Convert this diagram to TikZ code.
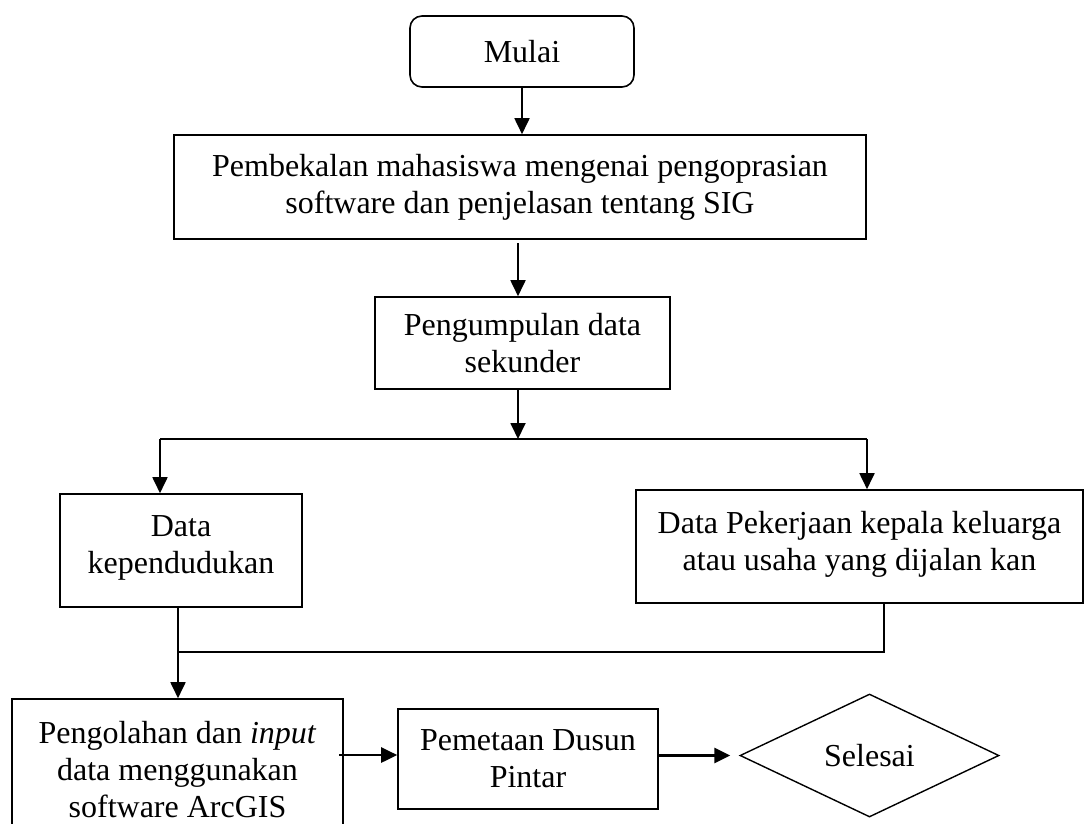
\documentclass[tikz,border=0pt]{standalone}
\usepackage{fontspec}
\setmainfont{Liberation Serif}
\usetikzlibrary{arrows.meta,shapes.geometric}
\begin{document}
\begin{tikzpicture}[x=1pt,y=-1pt,
  box/.style={draw, line width=1.6pt, rectangle, inner sep=0pt, align=center, font=\fontsize{32}{37}\selectfont},
  arr/.style={line width=1.8pt, -{Triangle[length=16pt,width=15pt]}},
  boldarr/.style={line width=2.6pt, -{Triangle[length=16pt,width=15pt]}},
  ln/.style={line width=1.4pt}]
\useasboundingbox (0,0) rectangle (1086,823);
\node[box, rounded corners=12pt, minimum width=224pt, minimum height=71pt] (mulai) at (522,51.5) {Mulai};
\node[box, minimum width=692pt, minimum height=104pt] (pemb) at (520,187) {Pembekalan mahasiswa mengenai pengoprasian\\software dan penjelasan tentang SIG};
\node[box, minimum width=295pt, minimum height=92pt] (kumpul) at (522.5,343) {Pengumpulan data\\sekunder};
\node[box, minimum width=242pt, minimum height=113pt, text depth=12pt] (dk) at (181,550.5) {Data\\kependudukan};
\node[box, minimum width=447pt, minimum height=113pt, text depth=12pt] (dp) at (859.5,546.5) {Data Pekerjaan kepala keluarga\\atau usaha yang dijalan kan};
\node[box, minimum width=331pt, minimum height=141pt] (olah) at (177.5,769.5) {Pengolahan dan \emph{input}\\data menggunakan\\software ArcGIS};
\node[box, minimum width=260pt, minimum height=100pt] (pm) at (528,759) {Pemetaan Dusun\\Pintar};
\node[draw, diamond, line width=1.4pt, minimum width=259pt, minimum height=123pt, inner sep=0pt, font=\fontsize{32}{37}\selectfont] (sel) at (869.5,755.5) {Selesai};
% connectors
\draw[arr] (mulai.south) -- (mulai.south |- pemb.north);
\coordinate (c2) at (518,243);
\draw[arr] (c2) -- (c2 |- kumpul.north);
\coordinate (split) at (518,439);
\draw[arr] (split |- kumpul.south) -- (split);
\coordinate (sl) at (160,439);
\coordinate (sr) at (867,439);
\draw[ln] (sl) -- (sr);
\draw[arr] (sl) -- (sl |- dk.north);
\draw[arr] (sr) -- (sr |- dp.north);
\coordinate (ml) at (178,652);
\coordinate (mr) at (884,652);
\draw[ln] (ml |- dk.south) -- (ml) -- (mr) -- (mr |- dp.south);
\draw[arr] (ml) -- (ml |- olah.north);
\coordinate (a1) at (339,755);
\draw[boldarr] (a1) -- (a1 -| pm.west);
\draw[boldarr] (pm.east |- sel.west) -- ([xshift=-9pt]sel.west);
\end{tikzpicture}
\end{document}
